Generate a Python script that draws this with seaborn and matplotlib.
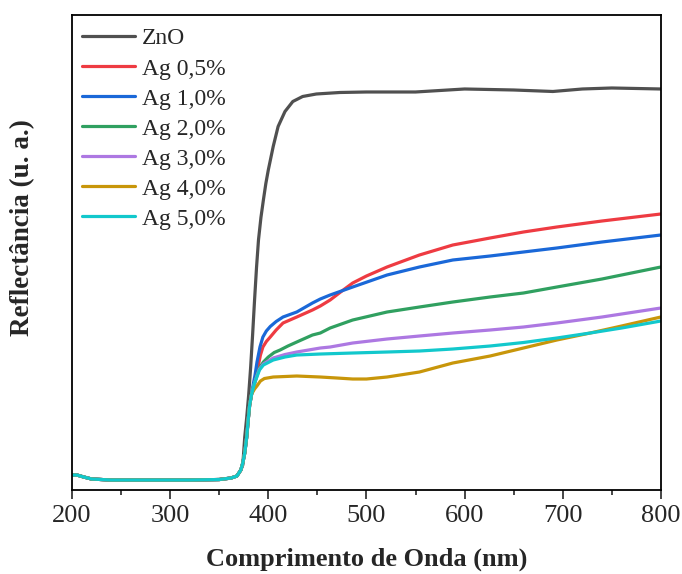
import numpy as np
import pandas as pd
import matplotlib
matplotlib.use("Agg")
import matplotlib.pyplot as plt
from matplotlib.lines import Line2D
import seaborn as sns

# ---- data (wavelength nm, reflectance a.u.) ----
base_x = [200, 205, 212, 220, 240, 280, 320, 350, 362, 368, 372]
base_y = [3.0, 3.0, 2.6, 2.2, 2.0, 2.0, 2.0, 2.1, 2.4, 2.8, 4.0]

rise_x = [374, 376, 378, 379.5, 381, 383]
rise_y = [5.4, 7.4, 10.6, 14.0, 17.0, 19.2]

zno_x = [374, 376, 378, 380, 382, 384, 386, 388, 390, 392.5, 395, 397.5, 400, 405,
         410, 417, 425, 435, 449, 473, 500, 550, 600, 650, 690, 720, 750, 800]
zno_y = [5.0, 10.6, 14.5, 19.0, 24.5, 31.0, 38.0, 44.5, 50.0, 54.5, 58.0, 61.3,
         64.0, 68.7, 72.7, 75.7, 77.7, 78.7, 79.2, 79.5, 79.6, 79.6, 80.2, 80.0,
         79.7, 80.2, 80.4, 80.2]

ag05_x = [385, 387.5, 389.5, 392, 394.5, 398, 402, 408, 415, 429, 445, 453, 463,
          475, 486, 500, 521, 554, 588, 626, 660, 694, 740, 800]
ag05_y = [20.4, 22.4, 24.6, 27.0, 28.6, 29.7, 30.6, 32.0, 33.4, 34.6, 36.0, 36.8,
          38.0, 39.8, 41.4, 42.8, 44.6, 47.0, 49.0, 50.4, 51.6, 52.6, 53.8, 55.2]

ag10_x = [385, 386.5, 388.5, 391.5, 394.5, 398, 402, 408, 415, 429, 445, 453, 463,
          486, 521, 554, 588, 626, 660, 694, 740, 800]
ag10_y = [21.5, 23.0, 25.6, 28.6, 30.6, 31.8, 32.7, 33.7, 34.6, 35.6, 37.4, 38.2,
          39.0, 40.6, 43.0, 44.6, 46.0, 46.8, 47.6, 48.4, 49.6, 51.0]

ag20_x = [386, 388.4, 391, 395, 400, 406, 412, 420, 429, 445, 453, 463, 486, 521,
          554, 588, 626, 660, 694, 740, 800]
ag20_y = [21.4, 23.0, 24.4, 25.6, 26.6, 27.5, 28.0, 28.8, 29.6, 31.0, 31.4, 32.4,
          34.0, 35.6, 36.6, 37.6, 38.6, 39.4, 40.6, 42.2, 44.6]

ag30_x = [386, 388.4, 391, 395, 405, 417, 429, 453, 463, 486, 521, 554, 588, 626,
          660, 694, 740, 800]
ag30_y = [21.4, 22.8, 24.2, 25.2, 26.4, 27.1, 27.6, 28.4, 28.6, 29.4, 30.2, 30.8,
          31.4, 32.0, 32.6, 33.4, 34.6, 36.4]

ag40_x = [386, 388.4, 392, 396, 405, 429, 453, 470, 486, 500, 521, 554, 588, 626,
          660, 694, 728, 760, 800]
ag40_y = [20.2, 20.8, 21.8, 22.3, 22.6, 22.8, 22.6, 22.4, 22.2, 22.2, 22.6, 23.6,
          25.4, 26.8, 28.4, 30.0, 31.4, 32.8, 34.6]

ag50_x = [386, 388.4, 391, 395, 405, 417, 429, 453, 486, 521, 554, 588, 626, 660,
          694, 728, 760, 800]
ag50_y = [21.4, 22.6, 24.0, 25.0, 26.0, 26.6, 27.0, 27.2, 27.4, 27.6, 27.8, 28.2,
          28.8, 29.5, 30.4, 31.4, 32.4, 33.8]

labels = ["ZnO", "Ag 0,5%", "Ag 1,0%", "Ag 2,0%", "Ag 3,0%", "Ag 4,0%", "Ag 5,0%"]
colors = ["#505050", "#ee3b42", "#1a68d8", "#30a060", "#ad78e2", "#c8960a", "#12c8cc"]

series = {
    "ZnO": (base_x + zno_x, base_y + zno_y),
    "Ag 0,5%": (base_x + rise_x + ag05_x, base_y + rise_y + ag05_y),
    "Ag 1,0%": (base_x + rise_x[:-1] + ag10_x, base_y + rise_y[:-1] + ag10_y),
    "Ag 2,0%": (base_x + rise_x + ag20_x, base_y + rise_y + ag20_y),
    "Ag 3,0%": (base_x + rise_x + ag30_x, base_y + rise_y + ag30_y),
    "Ag 4,0%": (base_x + rise_x + ag40_x, base_y + rise_y + ag40_y),
    "Ag 5,0%": (base_x + rise_x + ag50_x, base_y + rise_y + ag50_y),
}

rows = []
for name in labels:
    xs, ys = series[name]
    for a, b in zip(xs, ys):
        rows.append({"wl": a, "R": b, "amostra": name})
df = pd.DataFrame(rows)

sns.set_theme(style="ticks")
plt.rcParams["font.family"] = ["Liberation Serif", "DejaVu Serif"]

fig = plt.figure(figsize=(6.82, 5.74), dpi=100)
ax = fig.add_axes([0.1056, 0.1463, 0.8634, 0.8276])

sns.lineplot(data=df, x="wl", y="R", hue="amostra", hue_order=labels,
             palette=dict(zip(labels, colors)), sort=False, estimator=None,
             units="amostra", linewidth=2.3, ax=ax, legend=False)

ax.set_xlim(200, 800)
ax.set_ylim(0, 95)
ax.set_xticks([200, 300, 400, 500, 600, 700, 800])
ax.set_xticks([250, 350, 450, 550, 650, 750], minor=True)
ax.set_yticks([])
ax.tick_params(axis="x", which="major", direction="out", length=6.5, width=1.2,
               labelsize=19, pad=4)
ax.tick_params(axis="x", which="minor", direction="out", length=3.3, width=1.2)
for s in ax.spines.values():
    s.set_linewidth(1.3)
    s.set_color("black")

ax.set_xlabel("Comprimento de Onda (nm)", fontsize=19, fontweight="bold", labelpad=15)
ax.set_ylabel("Reflectância (u. a.)", fontsize=19.5, fontweight="bold")
ax.yaxis.set_label_coords(-0.063, 0.552)

handles = [Line2D([0], [0], color=c, lw=2.3) for c in colors]
ax.legend(handles, labels, loc="upper left", bbox_to_anchor=(-0.005, 1.0),
          frameon=False, fontsize=17, handlelength=2.25, handletextpad=0.3,
          labelspacing=0.36, borderaxespad=0.35, borderpad=0.2)

fig.savefig("out.png", dpi=100)
